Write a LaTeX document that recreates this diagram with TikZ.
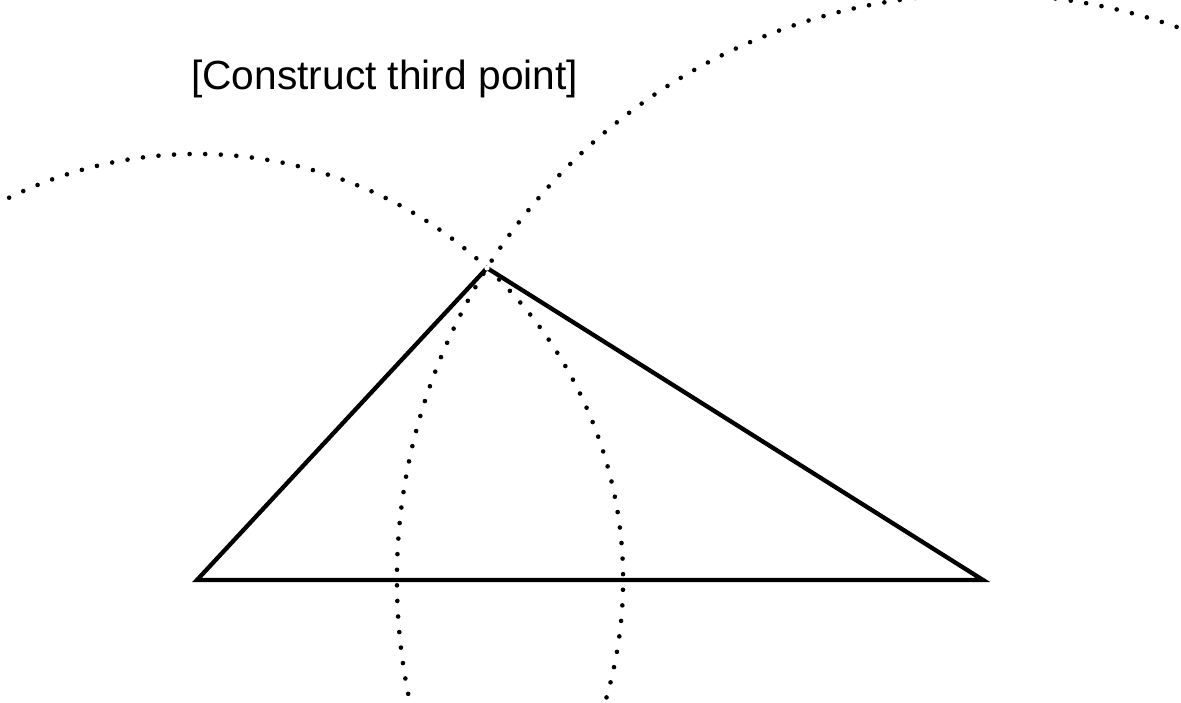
\documentclass[tikz,border=0pt]{standalone}
\usepackage{fontspec}
\setmainfont{Liberation Sans}
\begin{document}
\begin{tikzpicture}[x=1pt,y=1pt,
  arcdots/.style={line width=4.6pt, dash pattern=on 0pt off 15.6pt, line cap=round},
  tri/.style={line width=4.3pt, line join=miter},
  lbl/.style={anchor=base west, inner sep=0pt, font=\fontsize{40.7}{48}\selectfont}]
\useasboundingbox (0,0) rectangle (1181,702);
\clip (0,0) rectangle (1181,702);
\coordinate (A) at (197,122);
\coordinate (B) at (983,122);
\coordinate (C) at (487,434);
\draw[arcdots] (B) ++(191.2:586) arc[start angle=191.2, end angle=60, radius=586];
\draw[arcdots] (A) ++(-16:426) arc[start angle=-16, end angle=150, radius=426];
\draw[tri] (A) -- (B) -- (C) -- cycle;
\fill[white] (C) circle (2.6);
\node[lbl] (title) at (191,612) {[Construct third point]};
\end{tikzpicture}
\end{document}
